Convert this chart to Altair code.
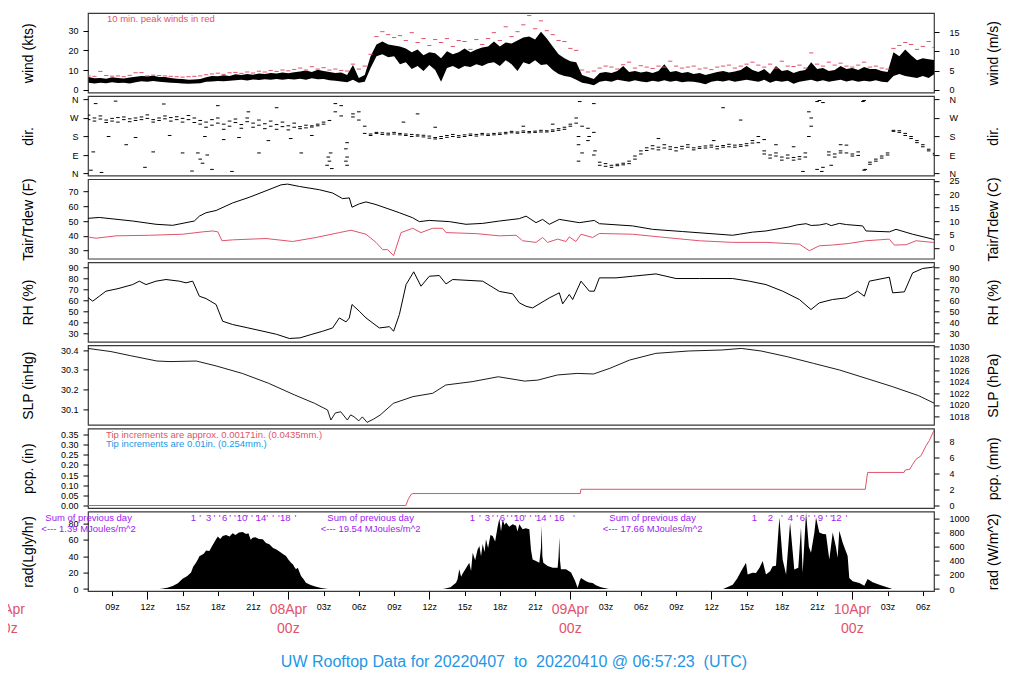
import altair as alt
import pandas as pd

RED = "#DF536B"
BLUE = "#2297E6"
PURPLE = "#A020F0"
FONT = "Liberation Sans"

PW = 846
PH = 79.5
T0, T1 = 6.95, 78.95   # hours since 2022-04-07 00z

half_hour = [7.0 + 0.5 * i for i in range(145)]

# ---------------- wind (kts) ----------------
wind_lo = [3.5,3.2,3.6,3.3,3.8,3.4,3.5,3.2,3.8,4.3,
           4.0,4.4,4.0,3.8,3.6,3.4,3.2,3.0,3.1,3.3,
           4.0,4.2,4.4,4.3,4.6,4.8,5.0,4.7,5.2,4.9,
           5.3,5.0,5.4,5.1,5.5,5.2,5.6,5.0,5.8,5.3,
           5.5,4.8,4.5,4.2,3.8,5.0,3.5,4.0,11.0,17.0,
           18.0,16.5,17.0,13.0,14.0,10.5,12.0,9.5,12.5,10.0,
           4.0,11.0,12.0,10.5,12.0,11.5,13.0,12.0,13.5,14.0,
           12.0,15.0,13.0,9.5,14.0,13.0,15.0,12.5,13.0,10.0,
           8.0,7.0,6.5,5.0,3.5,3.0,2.3,4.0,4.5,4.0,
           5.0,4.5,4.0,4.8,4.2,3.8,4.5,4.0,4.8,4.0,
           4.5,3.8,4.2,4.0,3.5,2.8,4.0,4.5,4.2,4.8,
           4.0,4.5,5.0,4.5,4.0,5.0,3.5,4.5,4.0,4.5,
           3.0,4.0,4.5,5.0,4.2,4.8,4.0,4.5,5.0,4.2,
           4.8,4.0,4.5,4.2,4.8,4.0,3.8,7.0,8.0,7.0,
           6.5,6.0,7.0,6.0,8.0]
wind_hi = [6.5,5.8,6.0,5.6,6.3,5.9,5.7,6.2,6.6,7.0,
           6.8,7.1,6.5,6.4,6.0,5.6,5.4,5.0,5.2,5.5,
           6.3,7.0,6.8,7.4,7.0,7.8,7.5,8.0,7.6,8.3,
           8.0,8.5,8.2,8.8,8.4,8.9,9.3,9.8,9.0,10.2,
           9.5,9.0,8.5,8.8,7.5,12.5,6.0,7.5,17.0,23.0,
           24.5,23.0,22.5,22.0,21.0,19.0,20.5,17.5,19.0,18.5,
           16.0,19.5,18.0,19.0,21.0,19.0,20.5,21.5,22.0,24.5,
           22.0,24.0,23.5,25.0,26.5,27.0,25.5,29.5,26.0,22.0,
           18.0,16.0,14.5,14.0,7.5,6.5,5.5,8.5,9.0,8.5,
           9.5,12.0,9.0,9.5,8.8,9.2,8.5,9.5,13.0,9.0,
           9.5,8.5,9.0,8.0,8.5,7.5,8.2,9.0,9.5,8.8,
           9.2,10.0,12.0,10.0,9.0,10.5,8.0,12.0,9.5,10.0,
           8.5,9.5,10.0,14.0,10.5,11.0,9.5,10.0,12.0,10.5,
           11.0,10.0,11.5,10.5,10.5,9.5,9.0,19.0,17.0,20.5,
           17.5,15.0,16.0,15.5,15.0]
wind_peak = [7.0,6.8,9.3,7.2,6.9,7.0,6.6,7.3,8.6,8.7,
             7.0,7.4,7.2,7.0,6.8,6.6,6.4,6.6,6.8,7.0,
             7.6,8.0,8.4,7.8,8.6,8.8,8.3,9.0,8.5,9.4,
             9.0,9.8,9.3,10.0,9.6,10.3,11.0,10.0,11.7,10.5,
             11.2,10.0,10.5,9.8,9.5,13.0,10.5,12.0,18.0,27.0,
             29.5,28.0,26.5,27.5,25.0,29.0,24.0,26.0,22.5,25.5,
             24.0,26.0,22.0,25.0,24.5,20.5,25.5,23.0,26.0,29.0,
             25.0,32.0,27.0,29.5,33.0,37.7,31.0,35.0,30.0,28.0,
             25.0,24.5,21.0,20.0,10.0,9.0,9.5,11.0,12.0,11.5,
             10.5,12.7,14.0,11.0,12.2,11.5,10.8,12.0,11.5,14.5,
             12.0,11.0,11.5,12.0,10.5,11.0,10.2,11.5,12.0,12.5,
             11.0,12.0,13.0,14.0,12.5,11.5,13.0,11.0,14.5,12.0,
             11.8,12.5,11.0,18.7,13.0,12.0,14.0,12.5,13.5,12.0,
             11.5,12.5,14.0,11.5,12.0,11.0,10.5,21.0,22.5,24.0,
             23.0,20.5,22.0,24.5,21.5]

# ---------------- direction (deg) ----------------
dir_a = [284,270,265,260,268,272,262,266,270,275,
         268,262,270,266,272,276,268,262,270,258,
         250,262,245,240,255,248,238,252,245,235,
         242,230,238,228,232,225,228,222,226,232,
         240,258,300,330,150,275,260,195,192,195,
         190,196,192,188,185,190,182,178,172,175,
         180,185,180,184,188,185,190,188,192,195,
         197,200,198,202,200,204,206,202,208,212,
         210,225,240,245,230,220,90,40,35,40,
         45,50,60,85,110,125,120,128,124,130,
         126,132,128,125,130,134,128,132,136,130,
         138,140,145,160,180,110,90,85,80,75,
         78,82,100,230,350,345,90,95,100,138,
         95,105,16,55,70,85,100,205,200,185,
         170,150,130,110,90]
dir_b = [262,255,280,248,255,250,275,252,258,262,
         285,250,258,280,255,262,250,282,248,240,
         225,235,270,215,230,265,220,270,225,260,
         218,255,215,250,212,245,218,235,232,240,
         250,60,340,280,40,290,300,230,185,200,
         198,188,200,195,192,180,188,186,182,168,
         170,176,190,176,180,192,182,195,185,188,
         190,193,205,196,207,198,200,210,202,205,
         218,215,230,270,100,160,200,55,48,30,
         38,42,48,70,95,112,135,115,140,118,
         110,120,140,115,122,124,138,120,128,142,
         128,132,135,148,150,95,75,100,65,90,
         65,70,80,270,20,30,105,80,110,100,
         85,88,355,45,60,75,90,210,208,195,
         180,160,140,118,98]
dir_out_t = [7.2,7.4,7.6,8.1,8.7,9.3,10.2,11.0,11.8,12.5,13.4,13.9,15.0,15.8,16.3,16.5,
             16.7,16.9,17.1,17.5,18.0,18.5,19.2,19.8,20.6,21.5,22.3,23.0,24.2,25.1,26.0,
             27.3,27.4,27.6,27.7,28.9,28.9,29.0,33.8,35.0,36.5,44.0,46.5,48.8,48.7,48.7,
             48.7,49.6,50.0,50.1,55.5,60.2,61.0,62.5,64.5,65.5,67.0,67.8,68.3,68.3,69.2,
             69.4,70.2,71.0,72.9,73.1]
dir_out_d = [16,105,340,5,180,352,140,175,30,105,338,185,100,12,100,70,
             50,180,90,20,330,165,10,175,300,100,160,320,170,100,185,
             40,80,100,24,60,120,80,250,290,225,230,240,350,60,140,
             180,180,340,110,170,160,320,260,165,140,130,10,180,300,355,
             10,40,140,350,20]

# ---------------- temperature (F) ----------------
tair_t = [6.92,7.91,10.75,12.74,14.16,15.29,16.0,16.43,17.0,17.85,19.26,20.68,22.1,23.38,
          23.94,24.94,26.64,27.77,28.62,29.19,29.42,30.04,30.61,31.46,33.45,34.58,35.15,
          36.0,37.7,39.12,40.54,41.96,43.66,44.23,45.08,45.64,46.21,47.06,48.77,50.04,
          50.47,53.3,55.0,57.56,61.81,62.38,63.5,64.65,65.5,66.6,67.3,68.06,68.5,69.19,
          69.8,70.2,70.89,71.5,72.88,73.16,75.15,75.72,77.13,78.84,79.0]
tair_f = [51.8,52.4,50.0,47.8,47.1,48.9,50.0,53.3,55.6,57.1,62.2,66.0,70.4,74.4,
          74.9,73.3,71.1,68.9,65.1,65.6,59.3,61.6,62.9,61.1,55.6,52.2,49.6,
          50.4,49.6,47.8,48.4,50.0,51.6,53.3,48.9,51.1,47.8,51.1,48.9,50.4,
          48.2,46.7,44.4,42.9,40.4,41.1,42.5,43.3,44.5,46.0,47.4,48.2,47.0,47.3,
          48.3,46.9,48.4,47.6,46.7,43.3,42.7,44.4,41.1,37.8,37.5]
tdew_t = [6.92,7.63,9.33,12.17,15.0,16.72,17.57,18.0,18.35,19.26,22.1,24.37,26.36,28.34,
          29.33,30.61,31.46,32.03,32.45,32.96,33.59,34.58,35.29,36.28,37.13,37.42,40.0,
          41.96,43.38,43.94,45.08,45.64,46.07,46.92,47.63,47.91,48.48,48.91,49.9,50.47,
          53.3,55.57,58.98,61.81,64.65,67.5,68.34,69.19,70.3,71.74,73.16,75.15,75.57,
          76.57,77.42,78.84,79.0]
tdew_f = [39.3,38.4,40.0,40.4,41.1,42.7,43.3,42.7,36.7,37.3,38.2,36.2,38.9,42.2,
          43.8,41.1,35.6,30.7,30.7,26.7,42.2,45.1,42.2,45.1,45.1,42.2,41.5,
          40.0,40.4,36.7,35.6,38.9,35.6,37.8,36.2,39.3,36.2,41.1,38.9,41.6,
          41.1,39.3,36.7,35.6,35.6,34.4,30.0,33.3,33.8,34.9,36.7,37.8,33.8,
          34.0,36.7,35.6,35.4]

# ---------------- relative humidity (%) ----------------
rh_t = [6.92,7.35,7.91,8.48,9.5,10.75,11.32,11.89,12.74,13.59,14.72,15.29,15.86,16.43,
        17.0,17.85,18.41,19.26,20.5,22.1,23.0,24.09,25.0,26.0,26.92,27.77,28.34,28.91,
        29.19,29.42,30.04,30.61,31.74,32.31,32.6,32.96,33.45,34.02,34.67,35.29,36.0,
        36.85,37.42,37.99,40.54,41.96,43.09,43.66,44.23,44.79,46.21,47.06,47.35,47.91,
        48.2,48.91,49.62,50.04,50.47,51.89,53.3,55.29,57.0,58.98,61.81,63.23,64.65,
        66.07,67.5,68.48,69.19,70.3,71.46,72.45,73.02,73.45,75.15,75.43,76.43,77.13,
        77.98,78.84,79.0]
rh_v = [62.7,59.1,63.6,68.2,70.5,74.2,77.3,74.2,77.3,78.8,77.3,75.8,77.3,63.6,
        61.5,56.1,40.9,37.9,35.0,31.2,29.0,25.2,25.8,29.0,31.8,34.8,43.9,40.3,
        43.9,56.1,50.0,43.9,34.8,35.5,36.0,31.8,47.0,74.2,85.8,72.7,81.8,
        82.4,74.8,78.8,77.3,68.0,65.8,57.6,54.5,53.0,62.1,66.7,56.7,65.2,
        60.6,77.3,68.2,68.2,80.3,80.3,81.8,83.9,79.7,79.7,79.7,77.3,74.2,
        68.2,60.6,51.5,57.6,60.6,62.1,68.2,63.6,77.3,80.9,66.7,67.6,84.8,
        88.8,90.0,90.5]

# ---------------- sea level pressure (inHg) ----------------
slp_t = [6.95,8.9,10.58,12.82,13.93,16.17,17.85,20.08,22.31,24.55,26.23,27.34,27.62,28.0,
         28.46,29.02,29.3,29.58,30.0,30.3,30.7,31.26,31.81,32.94,34.61,36.29,37.4,39.64,
         41.87,44.11,45.23,46.9,48.58,49.97,51.37,53.05,55.28,58.08,60.88,62.55,64.23,
         66.46,68.7,70.93,73.17,75.4,77.63,78.95]
slp_v = [30.408,30.392,30.371,30.344,30.341,30.344,30.319,30.281,30.231,30.171,30.129,30.095,
         30.044,30.08,30.086,30.044,30.07,30.061,30.04,30.06,30.032,30.049,30.069,30.129,
         30.163,30.18,30.222,30.239,30.264,30.242,30.247,30.273,30.281,30.278,30.307,30.349,
         30.383,30.395,30.4,30.408,30.395,30.366,30.332,30.298,30.256,30.214,30.168,30.13]

# ---------------- precipitation (in) ----------------
pcp_t = [6.95,34.0,34.2,34.45,34.6,48.85,48.9,73.1,73.3,76.4,76.5,76.9,77.0,77.13,77.42,
         77.84,78.27,78.55,78.95]
pcp_v = [0,0,0.03,0.055,0.059,0.059,0.08,0.08,0.163,0.163,0.175,0.179,0.19,0.203,0.228,
         0.245,0.294,0.32,0.37]

# ---------------- solar radiation (Langley/hr) ----------------
rad_t = [13.0,13.22,13.7,14.16,14.6,15.0,15.4,15.72,15.9,16.14,16.3,16.43,16.8,17.0,17.28,
         17.5,17.7,17.85,18.0,18.2,18.41,18.7,19.0,19.26,19.5,19.8,20.11,20.4,20.6,20.8,
         20.96,21.2,21.5,21.82,22.1,22.38,22.7,22.95,23.3,23.6,23.8,24.0,24.23,24.4,24.5,
         24.65,24.8,25.08,25.3,25.5,25.9,26.36,26.8,27.21,27.4,
         37.1,37.28,37.8,38.27,38.4,38.55,38.7,38.84,39.1,39.4,39.55,39.69,39.9,40.1,40.26,
         40.4,40.54,40.7,40.82,41.0,41.2,41.39,41.6,41.8,41.96,42.1,42.24,42.4,42.53,42.8,
         43.09,43.38,43.5,43.66,43.94,44.2,44.51,44.65,44.79,45.08,45.36,45.5,45.56,45.62,
         45.7,46.07,46.5,46.92,47.0,47.06,47.12,47.2,47.63,48.06,48.4,48.62,48.8,48.91,
         49.34,49.6,49.9,50.18,50.6,51.18,51.3,
         61.0,61.82,62.2,62.53,62.95,63.09,63.5,63.8,64.1,64.37,64.65,65.0,65.22,65.5,
         65.79,66.07,66.36,66.7,67.06,67.4,67.63,67.77,68.06,68.3,68.48,68.77,68.91,69.19,
         69.5,69.76,70.04,70.33,70.6,70.75,70.89,71.18,71.6,71.74,72.03,72.6,73.02,73.3,
         73.73,74.3,75.15,75.4]
rad_v = [0,0.4,1.5,3.7,7,12.6,16,20,27,32,36,40,43,47,46.3,
         52,57,60.6,64,61,64.6,66,64,67.9,66,69,69.5,67,68,60,
         62.6,63,61,60.6,56,54.5,50,48.4,45,42,40.2,36,32.1,30,27,
         24,26,15.9,12,7.7,5,2.8,1.2,0.4,0,
         0,0.4,2,7.7,12,24,15,19,25,32,22,44.3,35,48,52.4,
         40,55,45,60.6,50,66,64.6,58,75,86,70,85,78,81,76,
         79,77,70,79,73,74,73,48,36,34,32,50,77,40,
         32,28,26,26,40,63,35,24,24,20,10,1.2,10,13.5,
         9.5,8,7.4,4.5,2,0.4,0,
         0,5.3,12.9,21.7,31.9,17.6,19.8,19.6,25.8,34,17.6,21.5,27.9,28.4,
         87.3,36,17.6,81,23.7,25.8,75,19.6,93.4,51.6,44.2,68.8,87.3,68.8,
         67,66.8,36,68.8,51.6,38.1,70.9,56.5,40.1,13.5,9.5,7.4,4.1,12.3,
         8.2,5.3,1.2,0]

# cumulative MJ/m^2 markers along the top of the radiation panel
mj_label_t = [15.91,17.22,18.58,20.06,21.68,23.74,39.66,40.94,42.21,43.66,45.53,47.06,
              63.66,65.02,66.72,67.74,69.28,70.64]
mj_label_s = ["1","3","6","10","14","18","1","3","6","10","14","16","1","2","4","6","9","12"]
mj_tick_t = [16.5,17.7,18.15,19.05,19.45,19.8,20.5,20.9,21.3,22.2,22.7,23.2,24.6,
             40.3,41.4,41.8,42.65,43.0,43.3,44.15,44.6,45.05,46.3,48.3,
             66.0,67.3,68.3,68.8,69.8,70.2,71.5]
sum_t = [7, 31, 55]
sum_text = ["<--- 1.39 MJoules/m^2", "<--- 19.54 MJoules/m^2", "<--- 17.66 MJoules/m^2"]
day_t = [0, 24, 48, 72]
day_names = ["07Apr", "08Apr", "09Apr", "10Apr"]

# ---------------- helpers ----------------
def yscale(dom):
    return alt.Scale(domain=dom, nice=False, zero=False)


def yaxis(orient, values, title, expr=None, fmt=None):
    left = orient == "left"
    kw = dict(orient=orient, values=values, title=title, grid=False, domain=False,
              ticks=True, tickSize=5, tickColor="black", tickWidth=1,
              labelFont=FONT, labelFontSize=9, labelColor="black",
              labelPadding=5 if left else 10, labelFlush=False, labelOverlap=False,
              titleFont=FONT, titleFontSize=14, titleFontWeight="normal", titleColor="black",
              titleAngle=270, titleAlign="center", titleBaseline="middle",
              titleX=-60 if left else 59, titleY=PH / 2)
    if expr:
        kw["labelExpr"] = expr
    if fmt:
        kw["format"] = fmt
    return alt.Axis(**kw)


# ticks every 3 h; the 00z/12z ticks are drawn full length, the others short (dashed away)
bottom_axis = alt.Axis(
    orient="bottom", values=list(range(9, 79, 3)), title=None, grid=False, domain=False,
    labelExpr="datum.value % 24 == 0 ? '' : ((datum.value % 24) < 10 ? '0' : '') + (datum.value % 24) + 'z'",
    tickSize=8,
    tickDash={"condition": {"test": "datum.value % 12 != 0", "value": [4.5, 20]}, "value": [20, 0]},
    tickColor="black", labelFont=FONT, labelFontSize=9, labelColor="black",
    labelPadding=3, labelFlush=False, labelOverlap=False)


def xenc(axis=None):
    return alt.X("t:Q", scale=alt.Scale(domain=[T0, T1], nice=False, zero=False), axis=axis)


def right_layer(dom, values, title, expr=None, fmt=None):
    return alt.Chart(pd.DataFrame({"v": values})).mark_point(opacity=0, size=1).encode(
        y=alt.Y("v:Q", scale=yscale(dom), axis=yaxis("right", values, title, expr, fmt)))


def note(text, x, y, color, size=9.5, align="left"):
    return alt.Chart(pd.DataFrame({"s": [text]})).mark_text(
        color=color, font=FONT, fontSize=size, align=align, baseline="alphabetic").encode(
        x=alt.value(x), y=alt.value(y), text="s:N")


def panel(layers):
    return alt.layer(*layers).resolve_scale(y="independent").properties(width=PW, height=PH)


DASH = "M-1,0L1,0"

# ---------------- panel 1: wind ----------------
wd = [-1.42, 39.0]
wind_df = pd.DataFrame({"t": half_hour, "lo": wind_lo, "hi": wind_hi, "pk": wind_peak})
p_wind = panel([
    alt.Chart(wind_df).mark_area(color="black", clip=True).encode(
        x=xenc(), y=alt.Y("lo:Q", scale=yscale(wd), axis=yaxis("left", [0, 10, 20, 30], "wind (kts)")),
        y2="hi:Q"),
    alt.Chart(wind_df).mark_point(shape=DASH, size=18, filled=False, color=RED, strokeWidth=1,
                                  opacity=1, clip=True).encode(
        x=xenc(), y=alt.Y("pk:Q", scale=yscale(wd), axis=None)),
    note("10 min. peak winds in red", 19, 9, RED),
    right_layer([v / 1.94384 for v in wd], [0, 5, 10, 15], "wind (m/s)"),
])

# ---------------- panel 2: direction ----------------
dd = [-10.2, 376.5]
dir_expr = "datum.value == 90 ? 'E' : datum.value == 180 ? 'S' : datum.value == 270 ? 'W' : 'N'"
dir_df = pd.DataFrame({"t": half_hour + half_hour + dir_out_t, "d": dir_a + dir_b + dir_out_d})
p_dir = panel([
    alt.Chart(dir_df).mark_point(shape=DASH, size=13, filled=False, color="black", strokeWidth=1,
                                 opacity=1, clip=True).encode(
        x=xenc(), y=alt.Y("d:Q", scale=yscale(dd),
                          axis=yaxis("left", [0, 90, 180, 270, 360], "dir.", dir_expr))),
    right_layer(dd, [0, 90, 180, 270, 360], "dir.", dir_expr),
])

# ---------------- panel 3: temperature ----------------
td = [24.6, 78.2]
p_temp = panel([
    alt.Chart(pd.DataFrame({"t": tair_t, "v": tair_f})).mark_line(color="black", strokeWidth=1, clip=True).encode(
        x=xenc(), y=alt.Y("v:Q", scale=yscale(td), axis=yaxis("left", [30, 40, 50, 60, 70], "Tair/Tdew (F)"))),
    alt.Chart(pd.DataFrame({"t": tdew_t, "v": tdew_f})).mark_line(color=RED, strokeWidth=1, clip=True).encode(
        x=xenc(), y=alt.Y("v:Q", scale=yscale(td), axis=None)),
    right_layer([(v - 32) / 1.8 for v in td], [0, 5, 10, 15, 20, 25], "Tair/Tdew (C)"),
])

# ---------------- panel 4: RH ----------------
rd = [22.2, 94.45]
rh_ticks = [30, 40, 50, 60, 70, 80, 90]
p_rh = panel([
    alt.Chart(pd.DataFrame({"t": rh_t, "v": rh_v})).mark_line(color="black", strokeWidth=1, clip=True).encode(
        x=xenc(), y=alt.Y("v:Q", scale=yscale(rd), axis=yaxis("left", rh_ticks, "RH (%)"))),
    right_layer(rd, rh_ticks, "RH (%)"),
])

# ---------------- panel 5: SLP ----------------
sd = [30.0192, 30.4234]
p_slp = panel([
    alt.Chart(pd.DataFrame({"t": slp_t, "v": slp_v})).mark_line(color="black", strokeWidth=0.9, clip=True).encode(
        x=xenc(), y=alt.Y("v:Q", scale=yscale(sd),
                          axis=yaxis("left", [30.1, 30.2, 30.3, 30.4], "SLP (inHg)", fmt=".1f"))),
    right_layer([v * 33.8639 for v in sd], [1018, 1020, 1022, 1024, 1026, 1028, 1030], "SLP (hPa)", fmt="d"),
])

# ---------------- panel 6: precipitation ----------------
pd_ = [-0.0123, 0.3796]
p_pcp = panel([
    alt.Chart(pd.DataFrame({"t": pcp_t, "v": pcp_v})).mark_line(color=RED, strokeWidth=1, clip=True).encode(
        x=xenc(), y=alt.Y("v:Q", scale=yscale(pd_),
                          axis=yaxis("left", [0, 0.05, 0.1, 0.15, 0.2, 0.25, 0.3, 0.35], "pcp. (in)", fmt=".2f"))),
    note("Tip increments are approx. 0.00171in. (0.0435mm.)", 18, 9.4, RED),
    note("Tip increments are 0.01in. (0.254mm.)", 18, 18.7, BLUE),
    right_layer([v * 25.4 for v in pd_], [0, 2, 4, 6, 8], "pcp. (mm)"),
])

# ---------------- panel 7: radiation ----------------
radd = [-2.56, 94.4]
p_rad = panel([
    alt.Chart(pd.DataFrame({"t": rad_t, "v": rad_v})).mark_area(color="black", clip=True).encode(
        x=xenc(bottom_axis), y=alt.Y("v:Q", scale=yscale(radd),
                                     axis=yaxis("left", [0, 20, 40, 60, 80], "rad(Lgly/hr)"))),
    alt.Chart(pd.DataFrame({"t": sum_t, "s": ["Sum of previous day"] * 3})).mark_text(
        color=PURPLE, font=FONT, fontSize=9.5, baseline="alphabetic").encode(
        x=xenc(bottom_axis), y=alt.value(9), text="s:N"),
    alt.Chart(pd.DataFrame({"t": sum_t, "s": sum_text})).mark_text(
        color=PURPLE, font=FONT, fontSize=9.5, baseline="alphabetic").encode(
        x=xenc(bottom_axis), y=alt.value(20), text="s:N"),
    alt.Chart(pd.DataFrame({"t": mj_label_t, "s": mj_label_s})).mark_text(
        color=PURPLE, font=FONT, fontSize=9.5, baseline="alphabetic").encode(
        x=xenc(bottom_axis), y=alt.value(9), text="s:N"),
    alt.Chart(pd.DataFrame({"t": mj_tick_t, "s": ["'"] * len(mj_tick_t)})).mark_text(
        color=PURPLE, font=FONT, fontSize=9.5, baseline="alphabetic").encode(
        x=xenc(bottom_axis), y=alt.value(9), text="s:N"),
    alt.Chart(pd.DataFrame({"t": day_t, "s": day_names})).mark_text(
        color=RED, font=FONT, fontSize=14, baseline="alphabetic").encode(
        x=xenc(bottom_axis), y=alt.value(102.5), text="s:N"),
    alt.Chart(pd.DataFrame({"t": day_t, "s": ["00z"] * 4})).mark_text(
        color=RED, font=FONT, fontSize=14, baseline="alphabetic").encode(
        x=xenc(bottom_axis), y=alt.value(121), text="s:N"),
    note("UW Rooftop Data for 20220407 \u00a0to \u00a020220410 @ 06:57:23 \u00a0(UTC)",
         426, 155, BLUE, size=16, align="center"),
    right_layer([v * 11.622 for v in radd], [0, 200, 400, 600, 800, 1000], "rad (W/m^2)", fmt="d"),
])

chart = alt.vconcat(p_wind, p_dir, p_temp, p_rh, p_slp, p_pcp, p_rad,
                    spacing=3.1, bounds="flush").properties(
    autosize=alt.AutoSizeParams(type="none"),
    padding={"left": 80, "top": 5, "right": 76, "bottom": 680},
    background="white",
).configure_view(stroke="#3a3a3a", strokeWidth=1.2)

chart.save("out.html", embed_options={"renderer": "svg", "actions": False})
